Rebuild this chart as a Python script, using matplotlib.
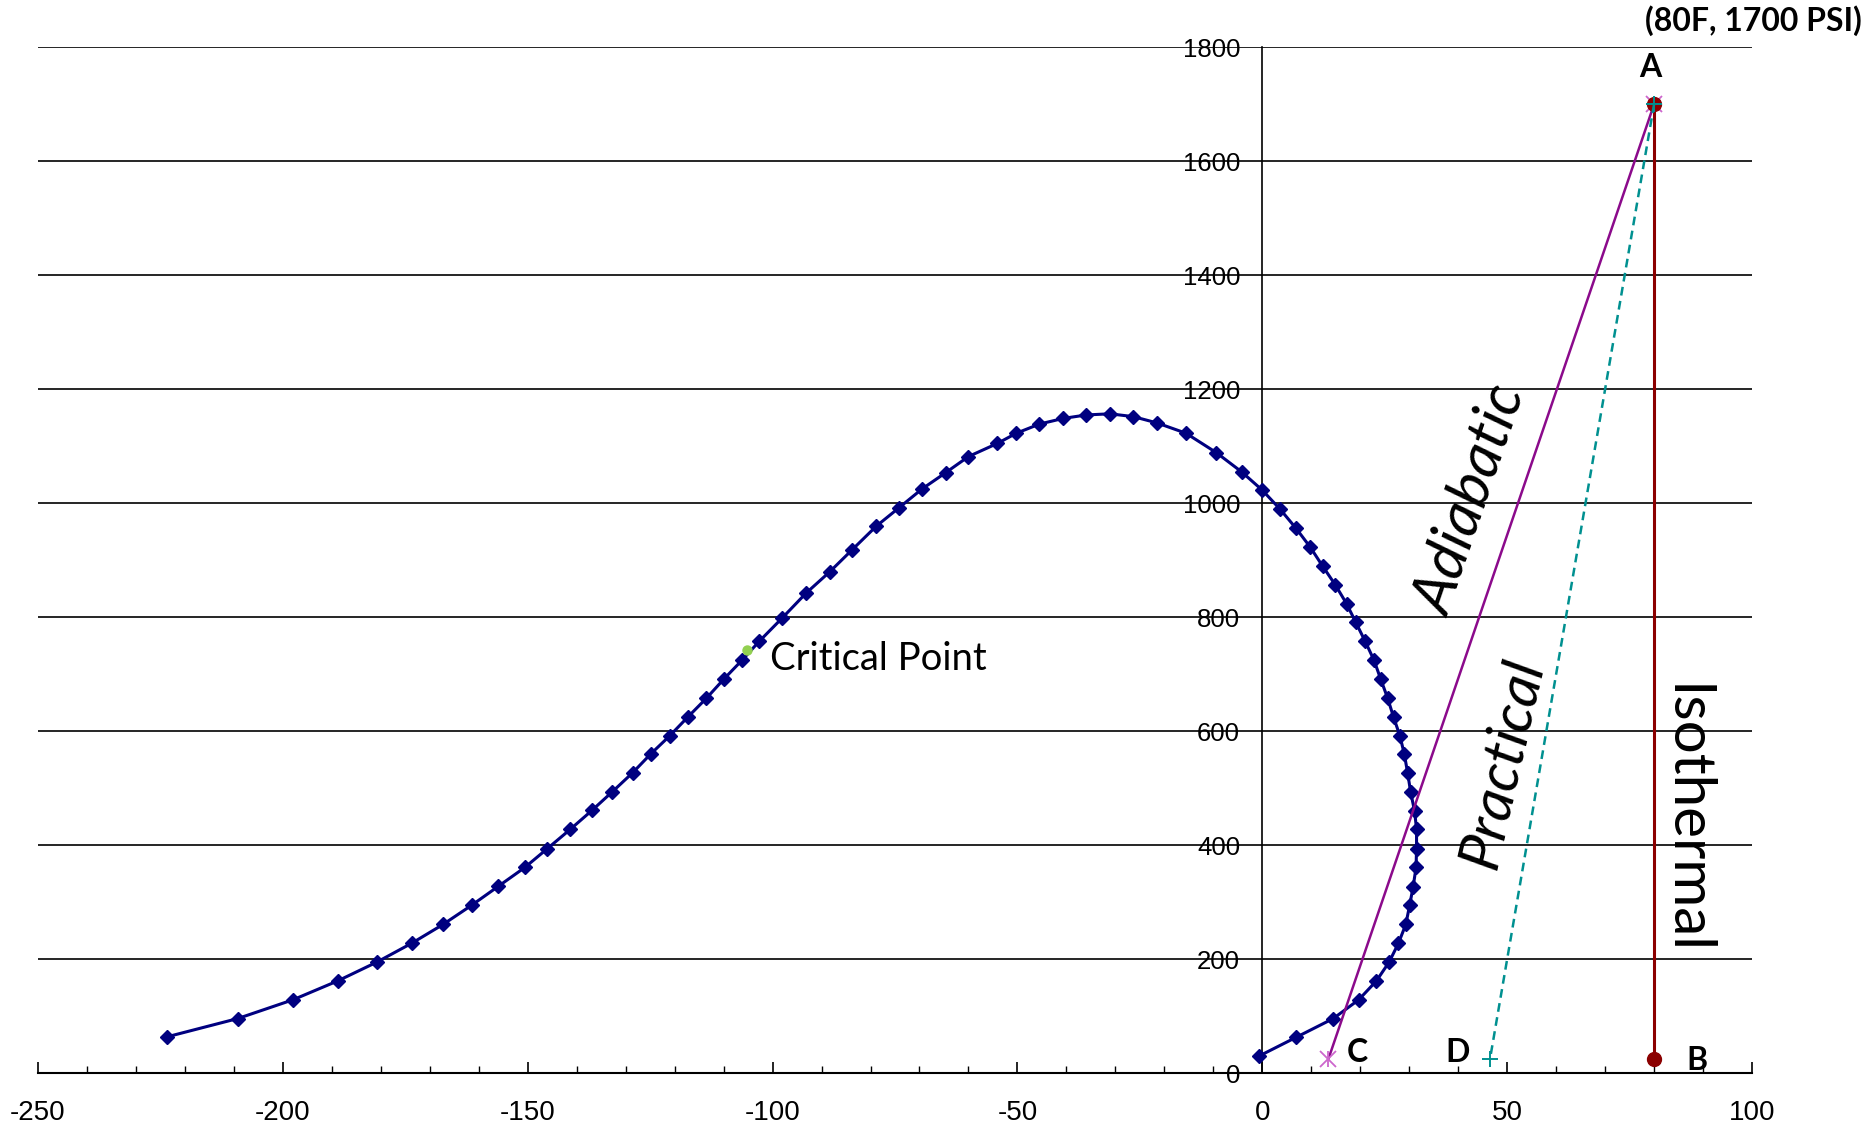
import matplotlib
matplotlib.use("Agg")
import matplotlib.pyplot as plt
from matplotlib import font_manager
from matplotlib.ticker import MultipleLocator

plt.rcParams["axes.unicode_minus"] = False

# saturation curve: temperature (F) against pressure (psi)
temp_f = [-223.6, -209.2, -197.9, -188.8, -180.8, -173.7, -167.3, -161.4, -156.0, -150.6,
          -146.0, -141.3, -136.9, -132.7, -128.6, -124.9, -121.0, -117.3, -113.5, -109.9,
          -106.2, -102.7, -98.0, -93.2, -88.3, -83.8, -78.8, -74.2, -69.5, -64.6,
          -60.0, -54.1, -50.2, -45.5, -40.6, -35.9, -31.1, -26.3, -21.5, -15.6,
          -9.4, -4.2, 0.0, 3.6, 6.9, 9.8, 12.3, 14.9, 17.2, 19.1,
          21.0, 22.8, 24.2, 25.6, 26.8, 28.1, 29.0, 29.7, 30.3, 31.1,
          31.5, 31.5, 31.4, 30.8, 30.1, 29.3, 27.8, 25.9, 23.3, 19.7,
          14.5, 6.9, -0.7]
pressure_psi = [64, 96, 129, 162, 195, 228, 261, 295, 328, 361,
                394, 428, 461, 494, 527, 560, 592, 625, 658, 692,
                725, 758, 799, 842, 880, 918, 960, 992, 1025, 1054,
                1082, 1105, 1123, 1139, 1149, 1155, 1157, 1152, 1141, 1123,
                1089, 1055, 1023, 990, 956, 923, 890, 857, 824, 791,
                758, 725, 691, 658, 625, 592, 560, 526, 493, 460,
                428, 394, 361, 327, 295, 261, 228, 195, 162, 129,
                96, 63, 30]

crit_temp = [-105.3]
crit_psi = [743]

# expansion paths from A (80F, 1700 psi)
isothermal_t = [80, 80]
isothermal_p = [1700, 25]
adiabatic_t = [80, 13.5]
adiabatic_p = [1700, 25]
practical_t = [80, 46.5]
practical_p = [1700, 25]

x_ticks = list(range(-250, 101, 50))
y_ticks = list(range(0, 1801, 200))

installed = {f.name for f in font_manager.fontManager.ttflist}
narrow = "Liberation Sans Narrow" if "Liberation Sans Narrow" in installed else "Liberation Sans"
label_font = "Lato"

fig = plt.figure(figsize=(18.71, 11.32), dpi=100)
ax = fig.add_axes([0.0203, 0.0519, 0.9161, 0.9063])

ax.plot(temp_f, pressure_psi, color="#000080", lw=2.2, marker="D", ms=7.5, zorder=3)
ax.plot(crit_temp, crit_psi, "o", color="#92D050", ms=6.5, zorder=4)

ax.plot(adiabatic_t, adiabatic_p, color="#8B0A8B", lw=1.8, zorder=3)
ax.plot(adiabatic_t, adiabatic_p, "x", color="#CC66CC", ms=11, mew=1.3, zorder=3)
ax.plot(adiabatic_t, adiabatic_p, "|", color="#CC66CC", ms=11, mew=1.3, zorder=3)
ax.plot(isothermal_t, isothermal_p, color="#8B0000", lw=2.2, marker="o", ms=10, zorder=4)
ax.plot(practical_t, practical_p, color="#009090", lw=1.8, ls=(0, (3.5, 2.2)), zorder=5)
ax.plot(practical_t, practical_p, "+", color="#009090", ms=12, mew=1.4, zorder=5)

ax.set_xlim(-250, 100)
ax.set_ylim(0, 1800)

for side in ["top", "right"]:
    ax.spines[side].set_visible(False)
ax.spines["left"].set_position(("data", 0))
ax.spines["left"].set_linewidth(1.2)
ax.spines["bottom"].set_linewidth(1.5)

ax.set_xticks(x_ticks)
ax.xaxis.set_minor_locator(MultipleLocator(10))
ax.set_yticks(y_ticks)
ax.tick_params(axis="x", which="major", direction="in", length=8, width=1.2, pad=19)
ax.tick_params(axis="x", which="minor", direction="in", length=5, width=1.0)
ax.tick_params(axis="y", length=0, pad=16)
for lab in ax.get_xticklabels():
    lab.set_fontfamily(narrow)
    lab.set_fontsize(20)
for lab in ax.get_yticklabels():
    lab.set_fontfamily("Liberation Sans")
    lab.set_fontsize(18.5)

ax.yaxis.grid(True, color="black", lw=1.2)
ax.set_axisbelow(True)

ax.text(-100.5, 726, "Critical Point", fontsize=27.5, family=label_font, ha="left", va="center")
ax.text(42.8, 1005, "Adiabatic", fontsize=43, family=label_font, style="italic",
        rotation=71, ha="center", va="center", rotation_mode="anchor")
ax.text(49.2, 543, "Practical", fontsize=42, family=label_font, style="italic",
        rotation=77, ha="center", va="center", rotation_mode="anchor")
ax.text(86.4, 445, "Isothermal", fontsize=42, family=label_font,
        rotation=-90, ha="center", va="center", rotation_mode="anchor")

for txt, x, y in [("A", 79.2, 1764), ("B", 88.7, 22), ("C", 19.4, 37), ("D", 39.8, 37)]:
    ax.text(x, y, txt, fontsize=23, family=label_font, weight="bold",
            ha="center", va="center", clip_on=False)
ax.text(100.3, 1847, "(80F, 1700 PSI)", fontsize=23, family=label_font, weight="bold",
        ha="center", va="center", clip_on=False)

fig.savefig("out.png", dpi=100)
